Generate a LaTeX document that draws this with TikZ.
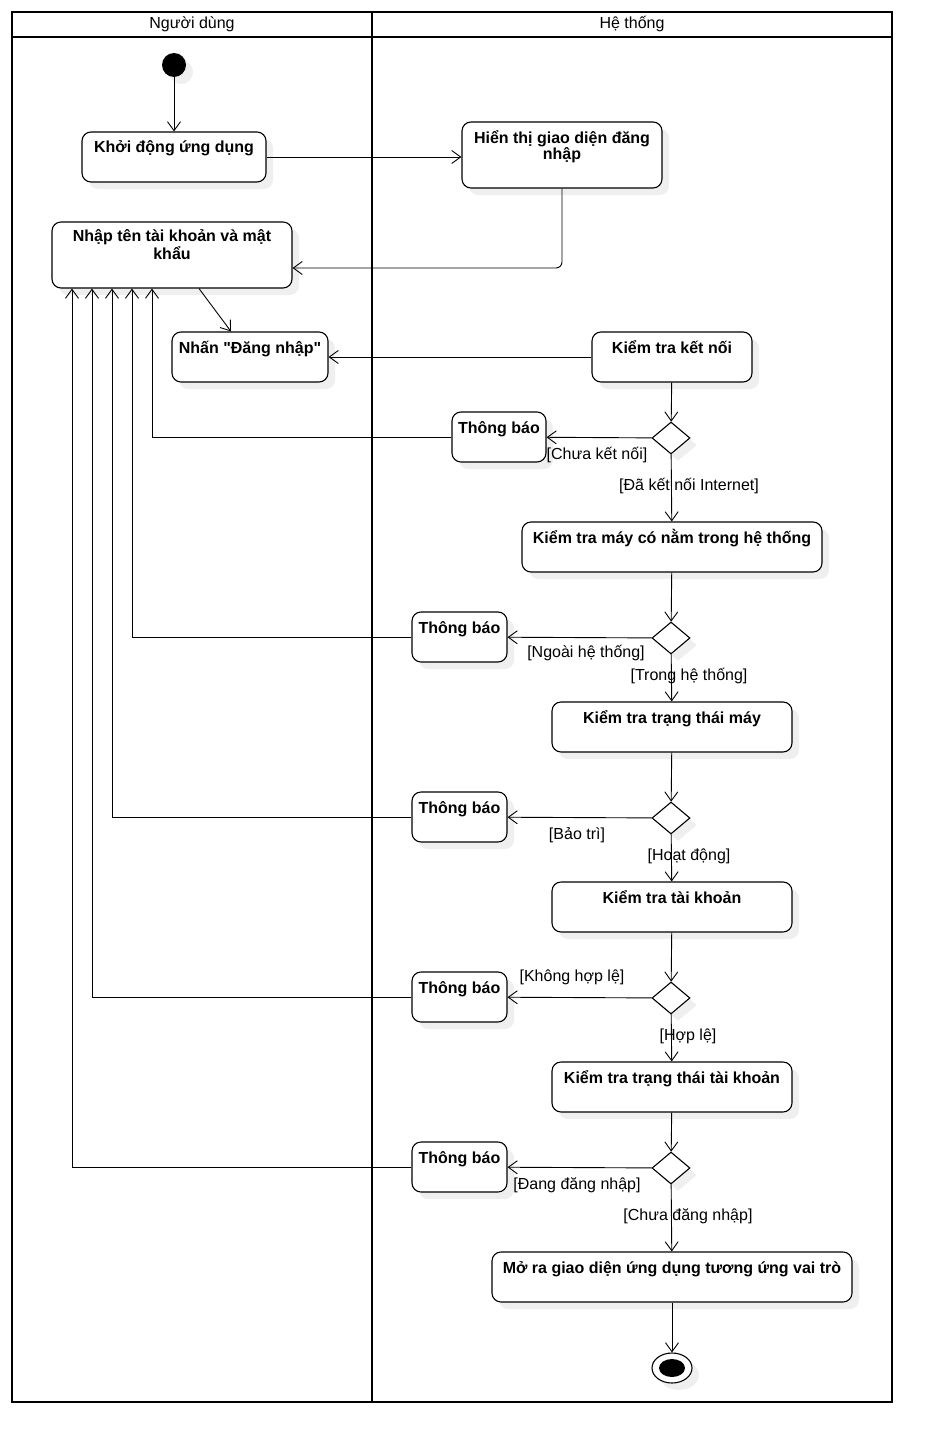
\documentclass[tikz,border=0pt]{standalone}
\usepackage{fontspec}
\setmainfont{Liberation Sans}
\usetikzlibrary{arrows.meta,shapes.geometric,shadows}

\begin{document}
\begin{tikzpicture}[>={Straight Barb[length=9pt,width=13pt]},x=1pt,y=-1pt,
		font=\fontsize{16pt}{16pt}\selectfont,
		bong/.style={drop shadow={shadow xshift=7pt,shadow yshift=-7pt,fill=black!12}},
		hop/.style={draw,line width=1.1pt,rounded corners=9pt,fill=white,bong,
			font=\fontsize{16pt}{16pt}\selectfont\bfseries,align=center,
			inner xsep=5pt,inner ysep=4pt,text height=17pt,text depth=25pt,minimum width=#1},
		re/.style={diamond,draw,line width=1.1pt,fill=white,bong,
			minimum width=38pt,minimum height=32pt,inner sep=0pt},
		noi/.style={->,line width=0.9pt},
		nhan/.style={inner sep=1pt}]
		
		\useasboundingbox (0,0) rectangle (945,1453);
		
		% khung va hai lan
		\draw[line width=2.2pt] (12,12) rectangle (892,1402);
		\draw[line width=2pt] (12,37)--(892,37);
		\draw[line width=2.2pt] (372,12)--(372,1402);
		\node (lan1) at (192,24) {Người dùng};
		\node (lan2) at (632,24) {Hệ thống};
		
		\node[circle,fill=black,minimum size=24pt,inner sep=0pt,bong] (batdau) at (174,65) {};
		\node[hop=184pt] (khoidong) at (174,157) {Khởi động ứng dụng};
		\node[hop=200pt,text height=33pt] (hienthi) at (562,155) {Hiển thị giao diện đăng\\nhập};
		\node[hop=240pt,text height=33pt] (nhap) at (172,255) {Nhập tên tài khoản và mật\\khẩu};
		\node[hop=156pt] (nhan) at (250,357) {Nhấn \textquotedbl Đăng nhập\textquotedbl};
		\node[hop=160pt] (ktkn) at (672,357) {Kiểm tra kết nối};
		\node[re] (d1) at (671,438) {};
		\node[hop=94pt] (tb1) at (499,437) {Thông báo};
		\node[hop=300pt] (ktmay) at (672,547) {Kiểm tra máy có nằm trong hệ thống};
		\node[re] (d2) at (671,638) {};
		\node[hop=95pt] (tb2) at (459.5,637) {Thông báo};
		\node[hop=240pt] (kttm) at (672,727) {Kiểm tra trạng thái máy};
		\node[re] (d3) at (671,818) {};
		\node[hop=95pt] (tb3) at (459.5,817) {Thông báo};
		\node[hop=240pt] (kttk) at (672,907) {Kiểm tra tài khoản};
		\node[re] (d4) at (671,998) {};
		\node[hop=95pt] (tb4) at (459.5,997) {Thông báo};
		\node[hop=240pt] (ktttk) at (672,1087) {Kiểm tra trạng thái tài khoản};
		\node[re] (d5) at (671,1168) {};
		\node[hop=95pt] (tb5) at (459.5,1167) {Thông báo};
		\node[hop=360pt] (mora) at (672,1277) {Mở ra giao diện ứng dụng tương ứng vai trò};
		\node[ellipse,draw,line width=1.1pt,fill=white,bong,minimum width=40pt,minimum height=30pt]
		(ketthuc) at (672,1368) {};
		\fill (ketthuc.center) ellipse [x radius=13,y radius=9];
		
		\draw[noi] (batdau)--(khoidong);
		\draw[noi] (khoidong.east)--(khoidong.east -| hienthi.west);
		\draw[noi,rounded corners=6pt] (hienthi.south) |- (nhap.east |- 0,268);
		\draw[noi] ([xshift=27pt]nhap.south)--([xshift=-19pt]nhan.north);
		\draw[noi] (ktkn)--(nhan);
		\draw[noi] (ktkn)--(d1);
		\draw[noi] (d1)--(tb1);
		\draw[noi] (d1)--(ktmay);
		\draw[noi] (ktmay)--(d2);
		\draw[noi] (d2)--(tb2);
		\draw[noi] (d2)--(kttm);
		\draw[noi] (kttm)--(d3);
		\draw[noi] (d3)--(tb3);
		\draw[noi] (d3)--(kttk);
		\draw[noi] (kttk)--(d4);
		\draw[noi] (d4)--(tb4);
		\draw[noi] (d4)--(ktttk);
		\draw[noi] (ktttk)--(d5);
		\draw[noi] (d5)--(tb5);
		\draw[noi] (d5)--(mora);
		\draw[noi] (mora)--(ketthuc);
		
		% quay lai nhap tai khoan
		\draw[noi] (tb1.west) -| (nhap.south -| 152,0);
		\draw[noi] (tb2.west) -| (nhap.south -| 132,0);
		\draw[noi] (tb3.west) -| (nhap.south -| 112,0);
		\draw[noi] (tb4.west) -| (nhap.south -| 92,0);
		\draw[noi] (tb5.west) -| (nhap.south -| 72,0);
		
		\node[nhan] (g1) at (597,455) {[Chưa kết nối]};
		\node[nhan] (g2) at (689,486) {[Đã kết nối Internet]};
		\node[nhan] (g3) at (586,653) {[Ngoài hệ thống]};
		\node[nhan] (g4) at (689,676) {[Trong hệ thống]};
		\node[nhan] (g5) at (577,835) {[Bảo trì]};
		\node[nhan] (g6) at (689,856) {[Hoạt động]};
		\node[nhan] (g7) at (572,977) {[Không hợp lệ]};
		\node[nhan] (g8) at (688,1036) {[Hợp lệ]};
		\node[nhan] (g9) at (577,1185) {[Đang đăng nhập]};
		\node[nhan] (g10) at (688,1216) {[Chưa đăng nhập]};
	\end{tikzpicture}
\end{document}
